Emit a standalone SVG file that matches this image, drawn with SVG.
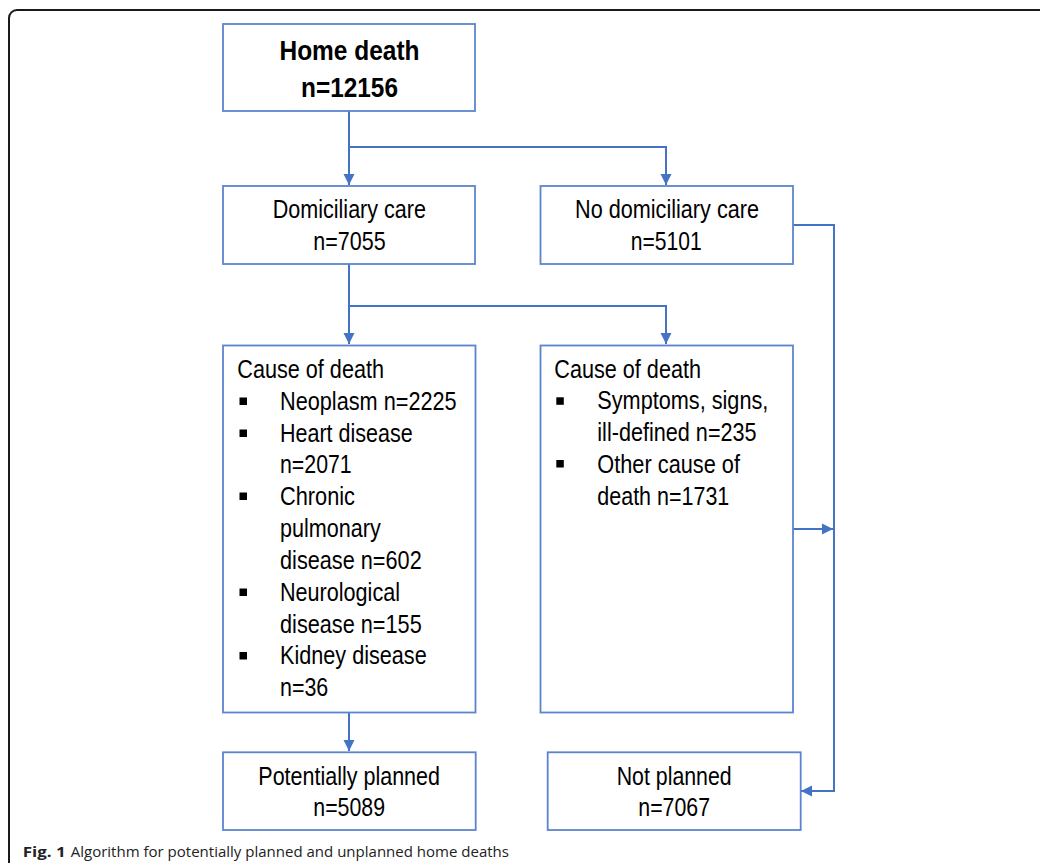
<svg xmlns="http://www.w3.org/2000/svg" width="1040" height="863" viewBox="0 0 1040 863">
<style>
.box{fill:#ffffff;stroke:#5b84d0;stroke-width:1.8}
.con{fill:none;stroke:#4472c4;stroke-width:2}
.t{font-family:"Liberation Sans",Arial,sans-serif;font-size:25px;fill:#000}
.b{font-family:"Liberation Sans",Arial,sans-serif;font-size:28px;font-weight:bold;fill:#000}
.cap{font-family:"Open Sans","Liberation Sans",sans-serif;font-size:15px;fill:#222}
.bul{fill:#000}
</style>
<defs>
<marker id="arr" markerUnits="userSpaceOnUse" markerWidth="12" markerHeight="12" refX="11" refY="6" orient="auto">
<path d="M0,0.5 L11,6 L0,11.5 z" fill="#4472c4"/>
</marker>
</defs>
<rect x="9" y="10" width="1080" height="900" rx="8" fill="#ffffff" stroke="#1a1a1a" stroke-width="2"/>

<g id="connectors">
<path class="con" d="M349,111 V185" marker-end="url(#arr)"/>
<path class="con" d="M349,147 H666 V185" marker-end="url(#arr)"/>
<path class="con" d="M349,264 V344" marker-end="url(#arr)"/>
<path class="con" d="M349,306 H666 V344" marker-end="url(#arr)"/>
<path class="con" d="M793,225 H834 V791 H801" marker-end="url(#arr)"/>
<path class="con" d="M793,529 H833" marker-end="url(#arr)"/>
<path class="con" d="M349,713 V751" marker-end="url(#arr)"/>
</g>

<g id="home-death">
<rect class="box" x="223" y="24" width="252" height="87"/>
<text class="b" x="279.5" y="60" textLength="140" lengthAdjust="spacingAndGlyphs">Home death</text>
<text class="b" x="301" y="96.5" textLength="97" lengthAdjust="spacingAndGlyphs">n=12156</text>
</g>

<g id="domiciliary-care">
<rect class="box" x="223" y="186" width="252" height="78"/>
<text class="t" x="272.7" y="218.3" textLength="153.3" lengthAdjust="spacingAndGlyphs">Domiciliary care</text>
<text class="t" x="313.3" y="250" textLength="72.3" lengthAdjust="spacingAndGlyphs">n=7055</text>
</g>

<g id="no-domiciliary-care">
<rect class="box" x="540.5" y="186" width="252.5" height="78"/>
<text class="t" x="575" y="218.3" textLength="184" lengthAdjust="spacingAndGlyphs">No domiciliary care</text>
<text class="t" x="630.7" y="249.5" textLength="71" lengthAdjust="spacingAndGlyphs">n=5101</text>
</g>

<g id="cause-left">
<rect class="box" x="223" y="345.5" width="252.5" height="367"/>
<text class="t" x="237.3" y="378.3" textLength="146.7" lengthAdjust="spacingAndGlyphs">Cause of death</text>
<rect class="bul" x="239.5" y="397.5" width="7.5" height="7.5"/>
<text class="t" x="280" y="410" textLength="176.7" lengthAdjust="spacingAndGlyphs">Neoplasm n=2225</text>
<rect class="bul" x="239.5" y="429.5" width="7.5" height="7.5"/>
<text class="t" x="280" y="441.7" textLength="132.7" lengthAdjust="spacingAndGlyphs">Heart disease</text>
<text class="t" x="280" y="473" textLength="71.7" lengthAdjust="spacingAndGlyphs">n=2071</text>
<rect class="bul" x="239.5" y="492.5" width="7.5" height="7.5"/>
<text class="t" x="280" y="505" textLength="75" lengthAdjust="spacingAndGlyphs">Chronic</text>
<text class="t" x="280" y="536.7" textLength="100.7" lengthAdjust="spacingAndGlyphs">pulmonary</text>
<text class="t" x="280" y="569" textLength="141.7" lengthAdjust="spacingAndGlyphs">disease n=602</text>
<rect class="bul" x="239.5" y="588.5" width="7.5" height="7.5"/>
<text class="t" x="280" y="600.7" textLength="120" lengthAdjust="spacingAndGlyphs">Neurological</text>
<text class="t" x="280" y="632.7" textLength="141.7" lengthAdjust="spacingAndGlyphs">disease n=155</text>
<rect class="bul" x="239.5" y="652" width="7.5" height="7.5"/>
<text class="t" x="280" y="664.3" textLength="146.7" lengthAdjust="spacingAndGlyphs">Kidney disease</text>
<text class="t" x="280" y="696" textLength="48.3" lengthAdjust="spacingAndGlyphs">n=36</text>
</g>

<g id="cause-right">
<rect class="box" x="540.5" y="345.5" width="252.5" height="367"/>
<text class="t" x="554.3" y="378.3" textLength="146.7" lengthAdjust="spacingAndGlyphs">Cause of death</text>
<rect class="bul" x="556.3" y="397.3" width="7.5" height="7.5"/>
<text class="t" x="597.3" y="409.3" textLength="171" lengthAdjust="spacingAndGlyphs">Symptoms, signs,</text>
<text class="t" x="597.3" y="441" textLength="159.3" lengthAdjust="spacingAndGlyphs">ill-defined n=235</text>
<rect class="bul" x="556.3" y="460" width="7.5" height="7.5"/>
<text class="t" x="597.3" y="472.7" textLength="142.7" lengthAdjust="spacingAndGlyphs">Other cause of</text>
<text class="t" x="597.3" y="505" textLength="132" lengthAdjust="spacingAndGlyphs">death n=1731</text>
</g>

<g id="potentially-planned">
<rect class="box" x="223" y="752.3" width="252.7" height="77.7"/>
<text class="t" x="258.3" y="785" textLength="181.7" lengthAdjust="spacingAndGlyphs">Potentially planned</text>
<text class="t" x="313.3" y="816.3" textLength="71.7" lengthAdjust="spacingAndGlyphs">n=5089</text>
</g>

<g id="not-planned">
<rect class="box" x="547.7" y="752.3" width="253" height="77.7"/>
<text class="t" x="616.7" y="785" textLength="115" lengthAdjust="spacingAndGlyphs">Not planned</text>
<text class="t" x="638.3" y="816.3" textLength="71.7" lengthAdjust="spacingAndGlyphs">n=7067</text>
</g>

<g id="caption">
<text class="cap" x="22.7" y="856.7" font-weight="bold" textLength="43" lengthAdjust="spacingAndGlyphs">Fig. 1</text>
<text class="cap" x="70.7" y="856.7" textLength="438.3" lengthAdjust="spacingAndGlyphs">Algorithm for potentially planned and unplanned home deaths</text>
</g>
</svg>
